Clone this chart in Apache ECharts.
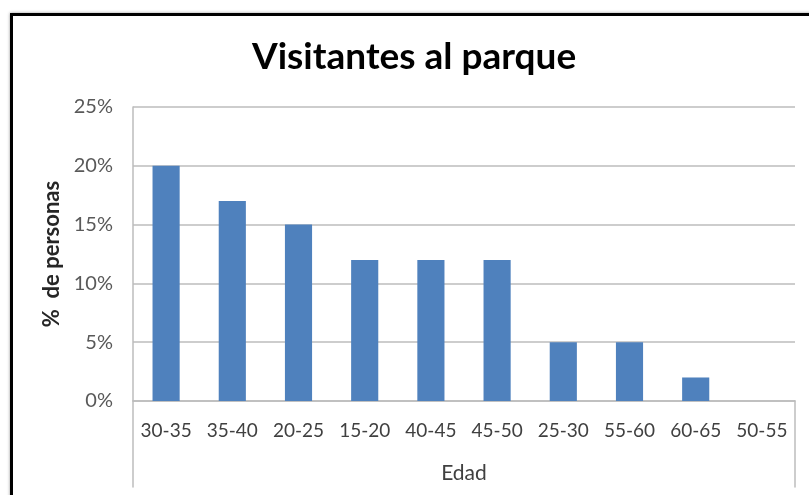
<!DOCTYPE html>
<html>
<head>
<meta charset="utf-8">
<script src="https://cdn.jsdelivr.net/npm/echarts@6/dist/echarts.min.js"></script>
<style>
  html, body { margin: 0; padding: 0; background: #fff; overflow: hidden; }
  #chart { width: 809px; height: 495px; }
  /* marco negro del grafico (recortado a la derecha y abajo) */
  .marco {
    position: absolute; left: 10px; top: 13px; width: 900px; height: 600px;
    border: 3px solid #000; box-shadow: 0 0 3px rgba(0,0,0,0.4);
    pointer-events: none;
  }
</style>
</head>
<body>
<div id="chart"></div>
<div class="marco"></div>
<script>
// datos
const edades = ["30-35", "35-40", "20-25", "15-20", "40-45", "45-50", "25-30", "55-60", "60-65", "50-55"];
const porcentajes = [20, 17, 15, 12, 12, 12, 5, 5, 2, 0];
const ticksY = [0, 5, 10, 15, 20, 25];

const fuente = "Lato";
const chart = echarts.init(document.getElementById("chart"));

chart.setOption({
  animation: false,
  title: {
    text: "Visitantes al parque",
    left: 247,
    top: 34,
    textStyle: { fontFamily: fuente, fontSize: 37, fontWeight: "bold", color: "#000" },
  },
  grid: [
    { left: 133, right: 14, top: 107, bottom: 94 },
    // zona de etiquetas debajo del eje (lineas verticales)
    { left: 133, right: 14, top: 401, bottom: 8 },
  ],
  xAxis: [
    {
      type: "category",
      data: edades,
      gridIndex: 0,
      name: "Edad",
      nameLocation: "middle",
      nameGap: 62,
      nameTextStyle: { fontFamily: fuente, fontSize: 21, color: "#404040" },
      axisLine: { lineStyle: { color: "#bcbcbc", width: 1.5 } },
      axisTick: { show: false },
      axisLabel: { fontFamily: fuente, fontSize: 19, color: "#404040", margin: 20, interval: 0 },
    },
    { type: "category", gridIndex: 1, data: edades, show: false },
  ],
  yAxis: [
    {
      type: "value",
      gridIndex: 0,
      min: ticksY[0],
      max: ticksY[ticksY.length - 1],
      interval: 5,
      name: "%  de personas",
      nameLocation: "middle",
      nameGap: 69,
      nameTextStyle: { fontFamily: fuente, fontSize: 22, fontWeight: "bold", color: "#262626" },
      axisLine: { show: true, lineStyle: { color: "#bcbcbc", width: 1.5 } },
      axisTick: { show: false },
      axisLabel: { fontFamily: fuente, fontSize: 20, color: "#595959", margin: 20, formatter: "{value}%" },
      splitLine: { lineStyle: { color: "#bdbdbd", width: 1.5 } },
    },
    {
      type: "value", gridIndex: 1, position: "left",
      axisLine: { show: true, onZero: false, lineStyle: { color: "#bcbcbc", width: 1.5 } },
      axisTick: { show: false }, axisLabel: { show: false }, splitLine: { show: false },
    },
    {
      type: "value", gridIndex: 1, position: "right",
      axisLine: { show: true, onZero: false, lineStyle: { color: "#bcbcbc", width: 1.5 } },
      axisTick: { show: false }, axisLabel: { show: false }, splitLine: { show: false },
    },
  ],
  series: [
    {
      type: "bar",
      data: porcentajes,
      barWidth: "41%",
      itemStyle: { color: "#4f81bd" },
    },
  ],
});
</script>
</body>
</html>
